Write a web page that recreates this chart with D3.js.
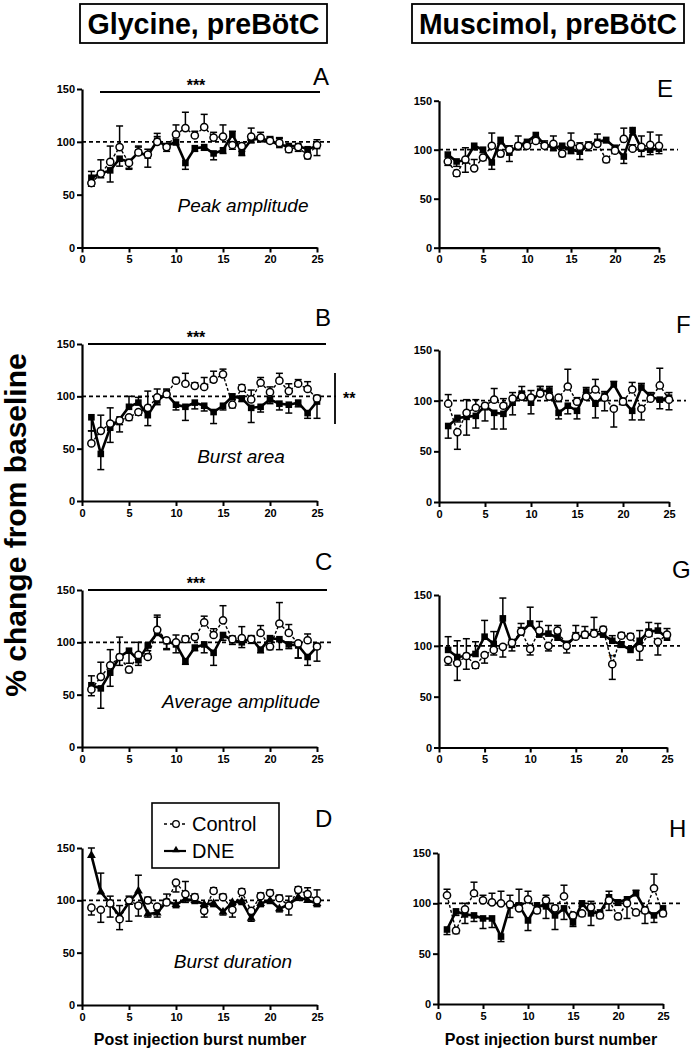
<!DOCTYPE html>
<html><head><meta charset="utf-8">
<script src="https://cdn.jsdelivr.net/npm/d3@7"></script>
<style>
html,body{margin:0;padding:0;background:#fff;}
svg text{font-family:"Liberation Sans",Arial,sans-serif;fill:#000;}
</style></head>
<body><svg id="chart" width="693" height="1050"></svg>
<script>
// ---------- data ----------
const burstNumbers = [1,2,3,4,5,6,7,8,9,10,11,12,13,14,15,16,17,18,19,20,21,22,23,24,25];
const xTickValues = [0,5,10,15,20,25];
const yTickValues = [0,50,100,150];
const baselineValue = 100;
const columnTitles = ["Glycine, preBötC", "Muscimol, preBötC"];
const panelLetters = ["A","B","C","D","E","F","G","H"];
const measureLabels = ["Peak amplitude","Burst area","Average amplitude","Burst duration"];
const seriesNames = ["Control","DNE"];
const yAxisTitle = "% change from baseline";
const xAxisTitle = "Post injection burst number";

// Glycine: A peak amplitude
const A_control = [61,70,81,95,80,90,88,100,95,107,113,106,114,104,105,97,96,105,104,101,99,93,95,87,97];
const A_controlErr = [-3,-4,15,20,-6,5,5,5,-4,9,15,4,12,5,11,-4,-5,8,5,4,4,-3,-4,-3,5];
const A_dne = [66,70,73,84,81,90,87,101,96,100,80,94,95,89,92,107,90,102,103,101,97,96,96,93,96];
const A_dneErr = [6,13,-11,-7,-6,6,-11,7,-3,-3,-6,-3,-3,-6,-3,3,-3,-3,-3,3,7,-3,-3,-3,-9];
// B burst area
const B_control = [55,67,74,77,80,85,89,99,102,115,112,110,109,116,121,92,108,97,113,104,115,105,112,107,98];
const B_controlErr = [12,15,15,-4,-3,-3,16,8,4,3,10,3,9,8,5,-3,3,9,5,5,7,7,4,7,3];
const B_dne = [80,45,70,78,90,94,82,96,102,92,90,94,91,85,91,100,98,89,90,97,93,92,94,84,95];
const B_dneErr = [-13,-15,-14,-12,10,5,-10,-4,5,-5,-13,-6,-5,-11,-4,-3,-3,-14,-5,-4,-6,-8,-4,-5,-16];
// C average amplitude
const C_control = [55,67,78,86,74,88,86,112,102,100,103,105,119,107,121,103,104,103,109,96,118,109,99,102,96];
const C_controlErr = [-6,14,15,19,-3,12,3,14,-8,7,3,3,6,6,14,3,11,3,7,-3,20,8,-14,6,3];
const C_dne = [59,56,71,86,92,83,97,109,101,98,82,95,98,90,107,102,100,104,93,104,103,98,97,86,96];
const C_dneErr = [9,-19,-13,-8,-12,-5,-5,15,-8,-8,-3,-3,-8,-12,-5,-4,-5,-5,-3,-3,-10,-4,-12,-8,-14];
// D burst duration
const D_control = [93,91,97,82,100,95,100,94,98,117,106,103,90,109,103,91,108,90,104,107,102,95,110,106,100];
const D_controlErr = [-7,-12,7,-10,4,-10,3,-4,3,-9,12,3,-6,3,3,-7,3,-3,3,3,3,9,3,6,10];
const D_dne = [143,108,97,85,98,109,87,88,99,96,101,100,96,97,89,98,99,83,97,100,92,96,103,100,97];
const D_dneErr = [7,18,-13,10,-18,15,-3,-4,7,-3,-3,-3,-3,-3,-3,-3,-3,-3,-3,-3,-3,-10,-3,3,-3];
// Muscimol: E peak amplitude
const E_control = [88,76,90,81,92,104,96,100,104,104,109,104,106,96,106,103,104,106,90,99,111,101,103,105,104];
const E_controlErr = [-4,-3,12,9,-3,13,-3,4,10,4,4,5,8,-3,11,4,4,10,-3,3,11,4,11,13,11];
const E_dne = [95,88,89,104,100,87,110,97,104,108,115,105,102,104,100,98,104,108,110,102,93,120,101,100,101];
const E_dneErr = [-6,-5,-12,-4,-3,-7,-4,-9,-4,-4,-3,-3,-3,-3,-4,-8,-5,-4,-3,-4,-7,-5,-8,-5,-5];
// F burst area
const F_control = [97,69,88,93,95,101,95,102,104,103,107,104,103,114,99,104,111,103,92,99,111,92,102,115,101];
const F_controlErr = [9,-17,13,8,-15,11,7,6,4,7,7,4,-4,17,4,4,10,-13,-18,3,7,-11,4,17,7];
const F_dne = [75,83,84,85,95,88,87,98,107,98,109,110,88,95,90,109,97,105,116,100,90,113,104,101,103];
const F_dneErr = [-12,-4,-18,-12,-4,-16,-15,-12,7,-11,5,4,-6,-8,-8,4,-14,4,3,-4,-9,4,4,-9,-12];
// G average amplitude
const G_control = [86,83,90,81,91,96,99,103,114,97,115,100,115,100,109,111,112,116,82,110,109,98,112,104,111];
const G_controlErr = [-5,-17,17,-3,-8,-5,-10,3,4,-6,9,-5,5,3,4,8,4,3,-15,3,3,-12,4,-13,6];
const G_dne = [96,89,90,92,109,102,127,101,113,122,111,112,108,102,109,110,112,111,105,101,96,105,114,115,108];
const G_dneErr = [13,16,-13,12,16,12,20,-6,9,16,4,8,4,-9,11,4,16,3,5,3,3,10,9,7,4];
// H burst duration
const H_control = [108,73,94,110,103,101,100,99,95,104,93,103,95,107,88,90,96,88,103,87,100,91,93,115,90];
const H_controlErr = [6,-3,6,11,5,9,12,9,19,8,-3,5,3,11,-3,-3,6,-3,-10,-3,-15,-3,-13,14,-3];
const H_dne = [74,92,89,88,85,85,67,98,98,83,98,97,88,95,81,100,90,91,106,101,104,110,94,88,95];
const H_dneErr = [-5,-4,-9,-6,-10,-9,-5,-12,-4,-10,-3,-12,-14,-11,-4,-3,-12,-4,6,-3,-4,3,-4,-7,-3];

// ---------- layout (positions only) ----------
const panels = [
  {letter:0, c:A_control, ce:A_controlErr, d:A_dne, de:A_dneErr, x0:82, x1:317, yb:247.5, yt:89,  dashEnd:330, lx:313, ly:85,  tri:false},
  {letter:1, c:B_control, ce:B_controlErr, d:B_dne, de:B_dneErr, x0:82, x1:317, yb:501,   yt:344, dashEnd:336, lx:315, ly:326, tri:false},
  {letter:2, c:C_control, ce:C_controlErr, d:C_dne, de:C_dneErr, x0:82, x1:317, yb:747,   yt:590, dashEnd:333, lx:315, ly:570, tri:false},
  {letter:3, c:D_control, ce:D_controlErr, d:D_dne, de:D_dneErr, x0:82, x1:317, yb:1005,  yt:848, dashEnd:330, lx:315, ly:827, tri:false, triD:true},
  {letter:4, c:E_control, ce:E_controlErr, d:E_dne, de:E_dneErr, x0:439, x1:659, yb:247.7, yt:100.7, dashEnd:678, lx:657, ly:97,  tri:false},
  {letter:5, c:F_control, ce:F_controlErr, d:F_dne, de:F_dneErr, x0:439, x1:669, yb:502,   yt:350, dashEnd:686, lx:676, ly:333, tri:false},
  {letter:6, c:G_control, ce:G_controlErr, d:G_dne, de:G_dneErr, x0:439, x1:667, yb:747.5, yt:595, dashEnd:680, lx:672, ly:578, tri:false},
  {letter:7, c:H_control, ce:H_controlErr, d:H_dne, de:H_dneErr, x0:438, x1:663, yb:1004,  yt:853, dashEnd:680, lx:669, ly:837, tri:false}
];

const svg = d3.select("#chart");

// column titles in boxes
const titleBoxes = [{x:80,y:4,w:247,h:39,tx:203.5,tl:232},{x:412,y:4,w:272,h:39,tx:548,tl:258}];
titleBoxes.forEach((b,i)=>{
  svg.append("rect").attr("x",b.x).attr("y",b.y).attr("width",b.w).attr("height",b.h)
    .attr("fill","none").attr("stroke","#000").attr("stroke-width",1.8);
  svg.append("text").attr("x",b.tx).attr("y",b.y+30).attr("text-anchor","middle")
    .attr("font-size",29).attr("font-weight","bold")
    .attr("textLength",b.tl).attr("lengthAdjust","spacingAndGlyphs")
    .text(columnTitles[i]);
});

// y axis title
svg.append("text").attr("transform","translate(26,525) rotate(-90)")
  .attr("text-anchor","middle").attr("font-size",30).attr("font-weight","bold").text(yAxisTitle);

// x axis titles
[200,551].forEach(cx=>{
  svg.append("text").attr("x",cx).attr("y",1045).attr("text-anchor","middle")
    .attr("font-size",16).attr("font-weight","bold").text(xAxisTitle);
});

panels.forEach((p,pi)=>{
  const x = d3.scaleLinear().domain([0,25]).range([p.x0,p.x1]);
  const y = d3.scaleLinear().domain([0,150]).range([p.yb,p.yt]);
  const g = svg.append("g");

  // axes
  const ya = g.append("g").attr("transform",`translate(${p.x0},0)`)
    .call(d3.axisLeft(y).tickValues(yTickValues).tickSize(5).tickSizeOuter(0).tickPadding(2));
  const xa = g.append("g").attr("transform",`translate(0,${p.yb})`)
    .call(d3.axisBottom(x).tickValues(xTickValues).tickSize(5).tickSizeOuter(0).tickPadding(3));
  [ya,xa].forEach(a=>{
    a.select(".domain").attr("stroke-width",2.2);
    a.selectAll(".tick line").attr("stroke-width",2);
    a.selectAll(".tick text").attr("font-size",11).attr("font-weight","bold")
      .attr("font-family",'"Liberation Sans",Arial,sans-serif');
  });

  // dashed baseline
  g.append("line").attr("x1",p.x0).attr("x2",p.dashEnd).attr("y1",y(baselineValue)).attr("y2",y(baselineValue))
    .attr("stroke","#000").attr("stroke-width",1.8).attr("stroke-dasharray","4,3");

  // error bars
  const drawErr = (vals, errs)=>{
    vals.forEach((v,i)=>{
      const xx = x(burstNumbers[i]), y1 = y(v), y2 = y(v+errs[i]);
      g.append("line").attr("x1",xx).attr("x2",xx).attr("y1",y1).attr("y2",y2)
        .attr("stroke","#000").attr("stroke-width",1.5);
      g.append("line").attr("x1",xx-3.5).attr("x2",xx+3.5).attr("y1",y2).attr("y2",y2)
        .attr("stroke","#000").attr("stroke-width",1.5);
    });
  };
  drawErr(p.c,p.ce);
  drawErr(p.d,p.de);

  const line = d3.line().x((v,i)=>x(burstNumbers[i])).y(v=>y(v));
  g.append("path").attr("d",line(p.c)).attr("fill","none").attr("stroke","#000")
    .attr("stroke-width",1.4).attr("stroke-dasharray","3,2");
  g.append("path").attr("d",line(p.d)).attr("fill","none").attr("stroke","#000")
    .attr("stroke-width",2.6).attr("stroke-linejoin","miter");

  // DNE markers
  if(p.triD){
    g.selectAll(null).data(p.d).enter().append("path")
      .attr("d",d3.symbol().type(d3.symbolTriangle).size(34))
      .attr("transform",(v,i)=>`translate(${x(burstNumbers[i])},${y(v)})`).attr("fill","#000");
  } else {
    g.selectAll(null).data(p.d).enter().append("rect")
      .attr("x",(v,i)=>x(burstNumbers[i])-3.3).attr("y",v=>y(v)-3.3)
      .attr("width",6.6).attr("height",6.6).attr("fill","#000");
  }
  // control markers
  g.selectAll(null).data(p.c).enter().append("circle")
    .attr("cx",(v,i)=>x(burstNumbers[i])).attr("cy",v=>y(v)).attr("r",3.6)
    .attr("fill","#fff").attr("stroke","#000").attr("stroke-width",1.5);

  // panel letter
  svg.append("text").attr("x",p.lx).attr("y",p.ly).attr("font-size",24).text(panelLetters[p.letter]);

  // measure label (left column)
  if(pi<4){
    const pos = [[243,212],[241,463],[241,708],[233,968]][pi];
    svg.append("text").attr("x",pos[0]).attr("y",pos[1]).attr("text-anchor","middle")
      .attr("font-size",19).attr("font-style","italic").text(measureLabels[pi]);
  }
  p.xs = x; p.ys = y;
});

// significance bars (***)
[[100,320,92,0],[88,326,344,1],[88,327,590,2]].forEach(s=>{
  svg.append("line").attr("x1",s[0]).attr("x2",s[1]).attr("y1",s[2]).attr("y2",s[2])
    .attr("stroke","#000").attr("stroke-width",2);
  svg.append("text").attr("x",196).attr("y",s[2]-1).attr("text-anchor","middle")
    .attr("font-size",16).attr("font-weight","bold").text("***");
});
// ** bracket for B
svg.append("line").attr("x1",335).attr("x2",335).attr("y1",373).attr("y2",424)
  .attr("stroke","#000").attr("stroke-width",1.8);
svg.append("text").attr("x",343).attr("y",404).attr("font-size",16).attr("font-weight","bold").text("**");
// ** above control point 19 in G
svg.append("text").attr("x",panels[6].xs(19)).attr("y",panels[6].ys(90)+4).attr("text-anchor","middle")
  .attr("font-size",9).attr("font-weight","bold").text("**");

// legend in D
const lg = svg.append("g");
lg.append("rect").attr("x",152).attr("y",803).attr("width",127).attr("height",65)
  .attr("fill","#fff").attr("stroke","#000").attr("stroke-width",1.6);
lg.append("line").attr("x1",164).attr("x2",186).attr("y1",824).attr("y2",824)
  .attr("stroke","#000").attr("stroke-width",1.4).attr("stroke-dasharray","3,3");
lg.append("circle").attr("cx",176).attr("cy",824).attr("r",3.3).attr("fill","#fff").attr("stroke","#000").attr("stroke-width",1.3);
lg.append("text").attr("x",192).attr("y",831).attr("font-size",20).text(seriesNames[0]);
lg.append("line").attr("x1",164).attr("x2",186).attr("y1",851).attr("y2",851)
  .attr("stroke","#000").attr("stroke-width",2.2);
lg.append("path").attr("d",d3.symbol().type(d3.symbolTriangle).size(24)).attr("transform","translate(176,850)").attr("fill","#000");
lg.append("text").attr("x",192).attr("y",858).attr("font-size",20).text(seriesNames[1]);
</script>
</body></html>
